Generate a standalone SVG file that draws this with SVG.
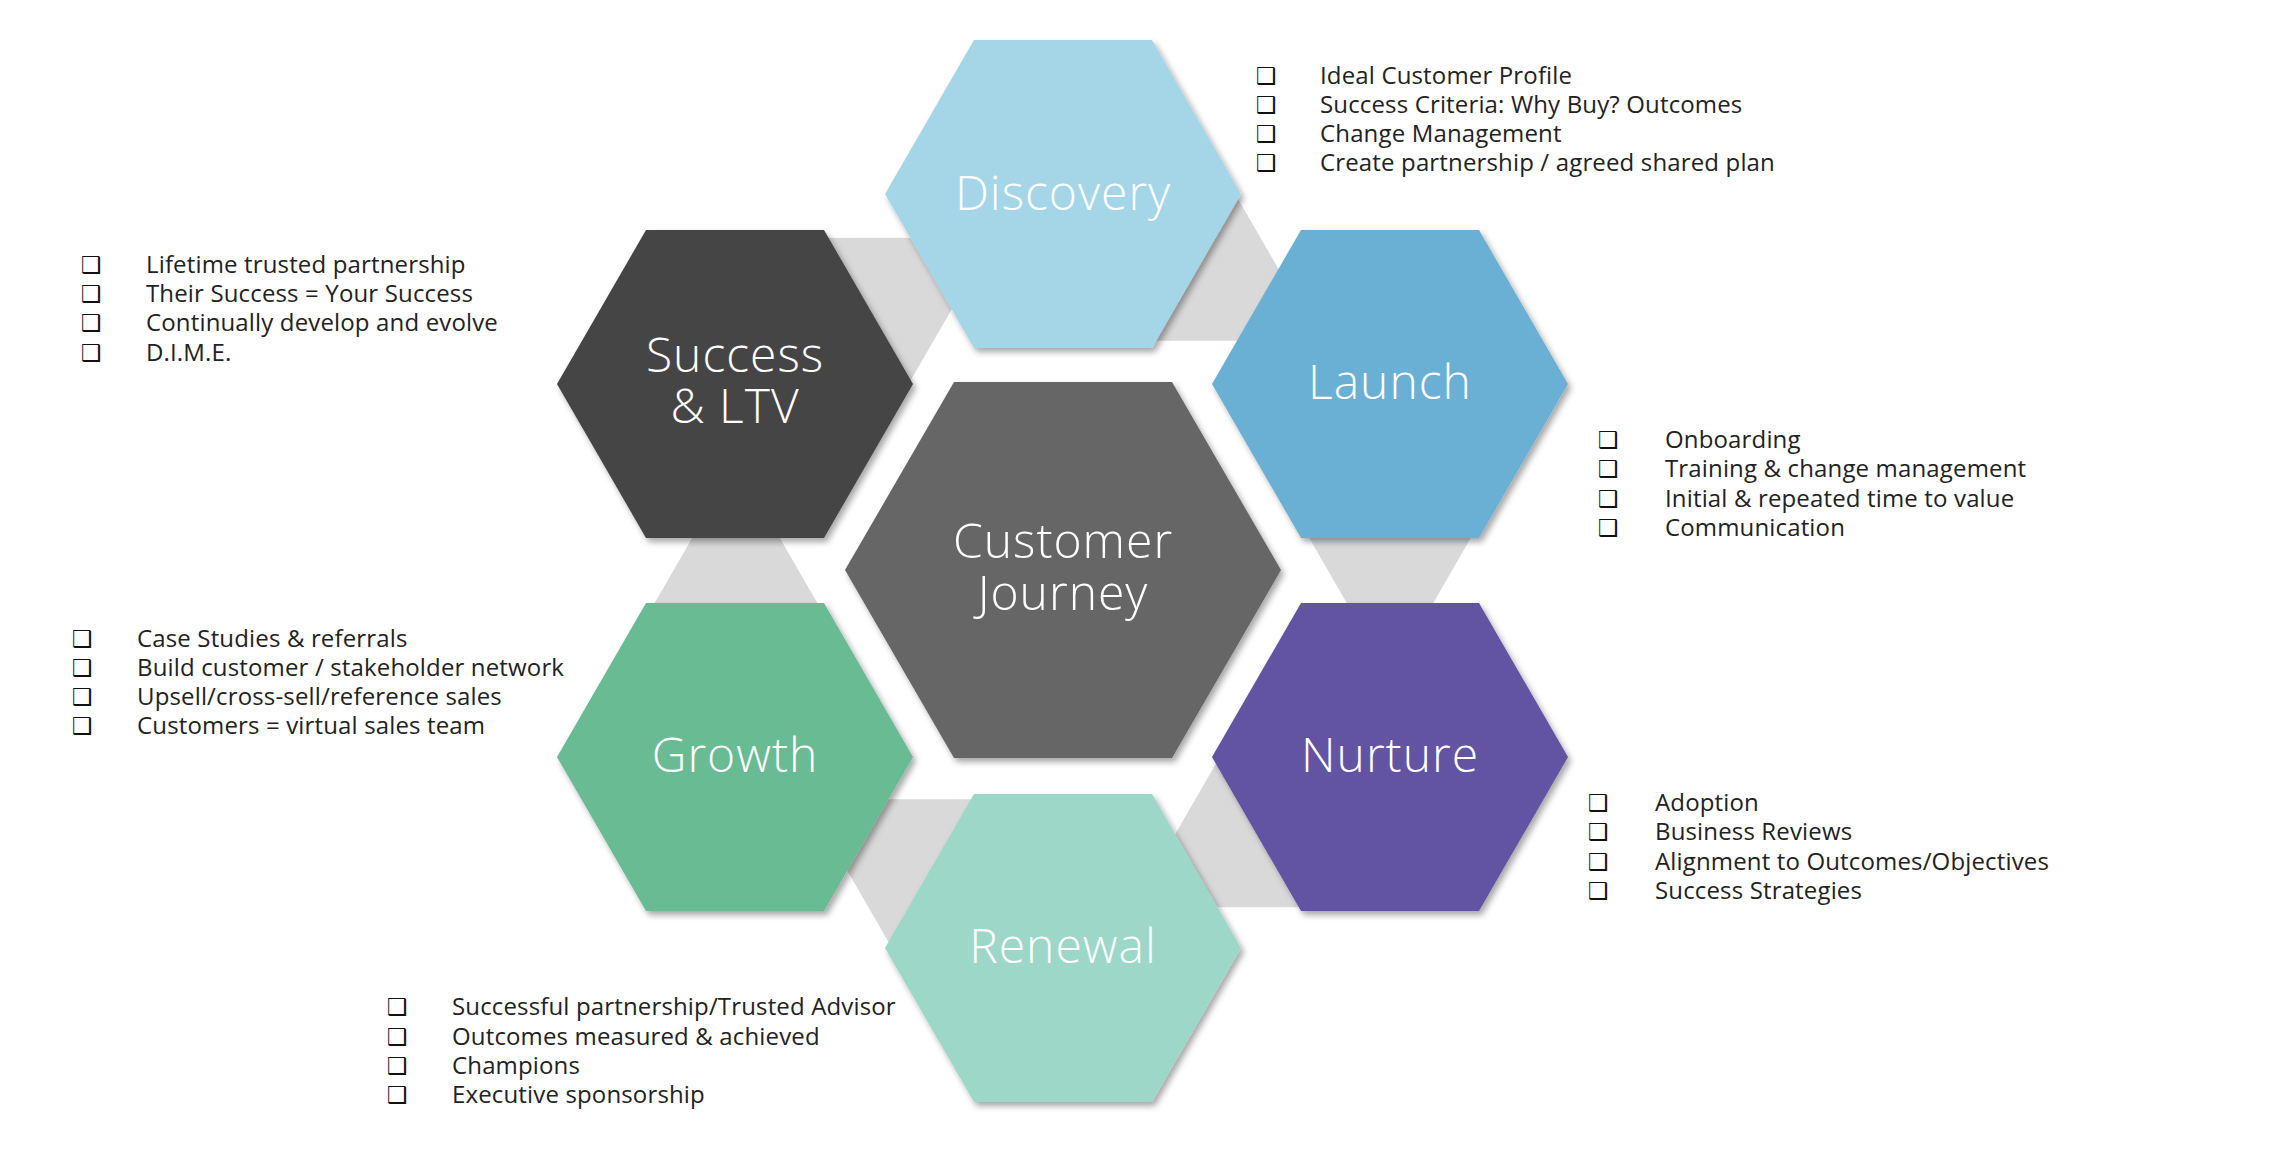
<svg xmlns="http://www.w3.org/2000/svg" width="2286" height="1166" viewBox="0 0 2286 1166">
  <style>
    .lbl { font-family: "Open Sans", "Lato", "Liberation Sans", sans-serif; font-weight: 300; font-size: 48px; letter-spacing: 1px; fill: #ffffff; text-anchor: middle; }
    .item { font-family: "Open Sans", "Lato", "Liberation Sans", sans-serif; font-size: 24px; letter-spacing: 0.15px; fill: #222222; }
    .cb { font-family: "DejaVu Sans", sans-serif; font-size: 23px; fill: #111111; }
    .conn { fill: #d9d9d9; }
  </style>
  <defs>
    <filter id="sh" x="-20%" y="-20%" width="140%" height="140%">
      <feDropShadow dx="3" dy="4" stdDeviation="3" flood-color="#000" flood-opacity="0.35"/>
    </filter>
    <polygon id="hexS" points="-178,0 -89,-154 89,-154 178,0 89,154 -89,154"/>
    <polygon id="tri" points="1270,470 1510,470 1390,678"/>
  </defs>
  <rect width="2286" height="1166" fill="#ffffff"/>

  <g id="connectors">
    <use href="#tri" class="conn" transform="rotate(-60 1063 570)"/>
    <use href="#tri" class="conn"/>
    <use href="#tri" class="conn" transform="rotate(60 1063 570)"/>
    <use href="#tri" class="conn" transform="rotate(120 1063 570)"/>
    <use href="#tri" class="conn" transform="rotate(180 1063 570)"/>
    <use href="#tri" class="conn" transform="translate(0 5) rotate(240 1063 570)"/>
  </g>

  <g id="center" filter="url(#sh)">
    <polygon points="845,570 954,382 1172,382 1281,570 1172,758 954,758" fill="#666666"/>
    <text class="lbl"><tspan x="1063" y="558">Customer</tspan><tspan x="1063" y="610">Journey</tspan></text>
  </g>

  <g id="discovery">
    <use href="#hexS" x="1063" y="194" fill="#a5d6e8" filter="url(#sh)"/>
    <text class="lbl" x="1063" y="210">Discovery</text>
  </g>
  <g id="launch">
    <use href="#hexS" x="1390" y="384" fill="#69b0d4" filter="url(#sh)"/>
    <text class="lbl" x="1390" y="399">Launch</text>
  </g>
  <g id="nurture">
    <use href="#hexS" x="1390" y="757" fill="#6353a3" filter="url(#sh)"/>
    <text class="lbl" x="1390" y="772">Nurture</text>
  </g>
  <g id="renewal">
    <use href="#hexS" x="1063" y="948" fill="#9dd7c7" filter="url(#sh)"/>
    <text class="lbl" x="1063" y="963">Renewal</text>
  </g>
  <g id="growth">
    <use href="#hexS" x="735" y="757" fill="#69bb94" filter="url(#sh)"/>
    <text class="lbl" x="735" y="772">Growth</text>
  </g>
  <g id="success">
    <use href="#hexS" x="735" y="384" fill="#444444" filter="url(#sh)"/>
    <text class="lbl"><tspan x="735" y="372">Success</tspan><tspan x="735" y="423">&amp; LTV</tspan></text>
  </g>

  <g id="list-discovery">
    <text class="cb" x="1256" y="84">❑</text><text class="item" x="1320" y="84">Ideal Customer Profile</text>
    <text class="cb" x="1256" y="113">❑</text><text class="item" x="1320" y="113">Success Criteria: Why Buy? Outcomes</text>
    <text class="cb" x="1256" y="142">❑</text><text class="item" x="1320" y="142">Change Management</text>
    <text class="cb" x="1256" y="171">❑</text><text class="item" x="1320" y="171">Create partnership / agreed shared plan</text>
  </g>
  <g id="list-success">
    <text class="cb" x="81" y="273">❑</text><text class="item" x="146" y="273">Lifetime trusted partnership</text>
    <text class="cb" x="81" y="302">❑</text><text class="item" x="146" y="302">Their Success = Your Success</text>
    <text class="cb" x="81" y="331">❑</text><text class="item" x="146" y="331">Continually develop and evolve</text>
    <text class="cb" x="81" y="361">❑</text><text class="item" x="146" y="361">D.I.M.E.</text>
  </g>
  <g id="list-growth">
    <text class="cb" x="72" y="647">❑</text><text class="item" x="137" y="647">Case Studies &amp; referrals</text>
    <text class="cb" x="72" y="676">❑</text><text class="item" x="137" y="676">Build customer / stakeholder network</text>
    <text class="cb" x="72" y="705">❑</text><text class="item" x="137" y="705">Upsell/cross-sell/reference sales</text>
    <text class="cb" x="72" y="734">❑</text><text class="item" x="137" y="734">Customers = virtual sales team</text>
  </g>
  <g id="list-launch">
    <text class="cb" x="1598" y="448">❑</text><text class="item" x="1665" y="448">Onboarding</text>
    <text class="cb" x="1598" y="477">❑</text><text class="item" x="1665" y="477">Training &amp; change management</text>
    <text class="cb" x="1598" y="507">❑</text><text class="item" x="1665" y="507">Initial &amp; repeated time to value</text>
    <text class="cb" x="1598" y="536">❑</text><text class="item" x="1665" y="536">Communication</text>
  </g>
  <g id="list-nurture">
    <text class="cb" x="1588" y="811">❑</text><text class="item" x="1655" y="811">Adoption</text>
    <text class="cb" x="1588" y="840">❑</text><text class="item" x="1655" y="840">Business Reviews</text>
    <text class="cb" x="1588" y="870">❑</text><text class="item" x="1655" y="870">Alignment to Outcomes/Objectives</text>
    <text class="cb" x="1588" y="899">❑</text><text class="item" x="1655" y="899">Success Strategies</text>
  </g>
  <g id="list-renewal">
    <text class="cb" x="387" y="1015">❑</text><text class="item" x="452" y="1015">Successful partnership/Trusted Advisor</text>
    <text class="cb" x="387" y="1045">❑</text><text class="item" x="452" y="1045">Outcomes measured &amp; achieved</text>
    <text class="cb" x="387" y="1074">❑</text><text class="item" x="452" y="1074">Champions</text>
    <text class="cb" x="387" y="1103">❑</text><text class="item" x="452" y="1103">Executive sponsorship</text>
  </g>
</svg>
